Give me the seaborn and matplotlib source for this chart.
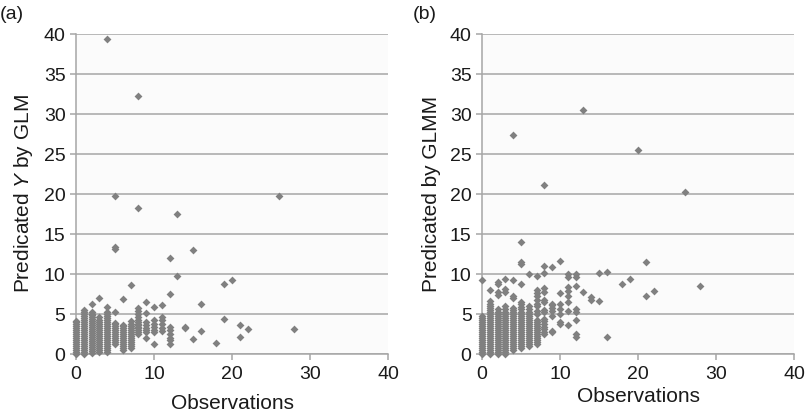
import matplotlib
matplotlib.use("Agg")
import matplotlib.pyplot as plt
import pandas as pd
import seaborn as sns

glm_obs = [0, 1, 2, 3, 4, 5, 6, 7, 8, 9, 10, 11, 12, 13, 14, 15, 16, 18, 19, 20, 21, 22, 26, 28]
glm_pred = [
    [0.0, 0.25, 0.5, 0.75, 1.0, 1.25, 1.5, 1.75, 2.0, 2.25, 2.5, 2.75, 3.0, 3.25, 3.5, 3.75, 4.0, 4.1],
    [0.0, 0.25, 0.5, 0.75, 1.0, 1.25, 1.5, 1.75, 2.0, 2.25, 2.5, 2.75, 3.0, 3.25, 3.5, 3.75, 4.0, 4.25,
     4.5, 4.75, 5.0, 5.25, 5.5],
    [0.1, 0.35, 0.6, 0.85, 1.1, 1.35, 1.6, 1.85, 2.1, 2.35, 2.6, 2.85, 3.1, 3.35, 3.6, 3.85, 4.1, 4.35,
     4.6, 4.85, 5.0, 5.2, 6.3],
    [0.3, 0.55, 0.8, 1.05, 1.3, 1.55, 1.8, 2.05, 2.3, 2.55, 2.8, 3.05, 3.3, 3.55, 3.8, 4.05, 4.3, 4.6, 7.0],
    [0.3, 0.55, 0.8, 1.05, 1.3, 1.55, 1.8, 2.05, 2.3, 2.55, 2.8, 3.05, 3.3, 3.55, 3.8, 4.05, 4.3, 4.55,
     4.8, 5.05, 5.3, 5.9, 39.4],
    [1.2, 1.45, 1.7, 1.95, 2.2, 2.45, 2.7, 2.95, 3.2, 3.45, 3.7, 3.9, 5.3, 13.1, 13.4, 19.8],
    [0.5, 0.75, 1.0, 1.25, 1.5, 1.75, 2.0, 2.25, 2.5, 2.75, 3.0, 3.25, 3.45, 3.6, 6.9],
    [0.8, 1.05, 1.3, 1.55, 1.8, 2.05, 2.3, 2.55, 2.8, 3.05, 3.3, 3.55, 3.8, 4.1, 8.6],
    [2.5, 2.7, 3.0, 3.2, 3.4, 3.6, 3.8, 4.0, 4.3, 4.6, 5.0, 5.4, 5.7, 18.3, 32.3],
    [2.0, 2.8, 3.0, 3.3, 3.6, 4.0, 5.1, 6.5],
    [1.3, 2.7, 3.0, 3.4, 3.8, 4.3, 5.9],
    [2.9, 3.3, 3.8, 4.2, 4.6, 6.1],
    [1.2, 1.7, 2.0, 2.5, 3.0, 3.4, 7.5, 12.0],
    [9.8, 17.5],
    [3.3, 3.4],
    [1.9, 13.0],
    [2.9, 6.2],
    [1.4],
    [4.4, 8.8],
    [9.2],
    [2.1, 3.6],
    [3.1],
    [19.8],
    [3.1],
]

glmm_obs = [0, 1, 2, 3, 4, 5, 6, 7, 8, 9, 10, 11, 12, 13, 14, 15, 16, 18, 19, 20, 21, 22, 26, 28]
glmm_pred = [
    [0.0, 0.25, 0.5, 0.75, 1.0, 1.25, 1.5, 1.75, 2.0, 2.25, 2.5, 2.75, 3.0, 3.25, 3.5, 3.75, 4.0, 4.25,
     4.5, 4.7, 9.2],
    [0.0, 0.25, 0.5, 0.75, 1.0, 1.25, 1.5, 1.75, 2.0, 2.25, 2.5, 2.75, 3.0, 3.25, 3.5, 3.75, 4.0, 4.25,
     4.5, 4.75, 5.0, 5.25, 5.5, 5.75, 6.0, 6.3, 6.6, 8.0],
    [0.0, 0.25, 0.5, 0.75, 1.0, 1.25, 1.5, 1.75, 2.0, 2.25, 2.5, 2.75, 3.0, 3.25, 3.5, 3.75, 4.0, 4.25,
     4.5, 4.75, 5.0, 5.3, 5.6, 7.4, 7.8, 8.7, 9.0],
    [0.0, 0.25, 0.5, 0.75, 1.0, 1.25, 1.5, 1.75, 2.0, 2.25, 2.5, 2.75, 3.0, 3.25, 3.5, 3.75, 4.0, 4.25,
     4.5, 4.75, 5.0, 5.3, 5.6, 6.0, 7.7, 8.1, 9.4],
    [0.5, 0.75, 1.0, 1.25, 1.5, 1.75, 2.0, 2.25, 2.5, 2.75, 3.0, 3.25, 3.5, 3.75, 4.0, 4.25, 4.5, 4.75,
     5.0, 5.3, 5.5, 5.8, 7.0, 7.3, 9.2, 27.4],
    [0.8, 1.05, 1.3, 1.55, 1.8, 2.05, 2.3, 2.55, 2.8, 3.05, 3.3, 3.55, 3.8, 4.05, 4.3, 4.55, 4.8, 5.05,
     5.3, 5.6, 5.9, 6.2, 6.5, 8.8, 11.2, 11.5, 14.0],
    [1.0, 1.25, 1.5, 1.75, 2.0, 2.25, 2.5, 2.75, 3.0, 3.25, 3.5, 3.75, 4.0, 4.25, 4.5, 4.75, 5.0, 5.3,
     5.6, 6.0, 10.0],
    [1.2, 1.45, 1.7, 1.95, 2.2, 2.45, 2.7, 2.95, 3.2, 3.45, 3.7, 3.95, 4.3, 5.0, 5.4, 6.0, 6.3, 6.8,
     7.2, 7.6, 8.0, 9.7],
    [2.5, 2.8, 3.1, 3.4, 3.8, 4.1, 4.4, 5.2, 5.5, 6.5, 6.7, 7.8, 8.2, 10.1, 11.0, 21.1],
    [2.7, 2.9, 4.8, 5.4, 5.7, 6.1, 6.2, 10.9],
    [3.7, 4.0, 5.0, 5.6, 6.2, 7.6, 11.6],
    [3.6, 5.4, 6.5, 7.3, 7.9, 8.4, 9.6, 10.0],
    [2.1, 2.5, 4.2, 5.3, 5.6, 8.5, 9.6, 10.0],
    [7.7, 30.5],
    [6.8, 7.1],
    [6.6, 10.1],
    [2.1, 10.3],
    [8.8],
    [9.4],
    [25.5],
    [7.2, 11.5],
    [7.9],
    [20.2],
    [8.5],
]


def to_frame(obs, pred):
    rows = []
    for o, vals in zip(obs, pred):
        for v in vals:
            rows.append({"obs": o, "pred": v})
    return pd.DataFrame(rows)


df_glm = to_frame(glm_obs, glm_pred)
df_glmm = to_frame(glmm_obs, glmm_pred)

sns.set_style("white")
plt.rcParams["font.family"] = ["Liberation Sans", "DejaVu Sans"]
plt.rcParams["mathtext.fontset"] = "custom"
plt.rcParams["mathtext.rm"] = "Liberation Sans"
plt.rcParams["mathtext.it"] = "Liberation Sans:italic"

fig = plt.figure(figsize=(8.05, 4.16), dpi=100)
ax1 = fig.add_axes([0.0944, 0.149, 0.3876, 0.769])
ax2 = fig.add_axes([0.5988, 0.149, 0.3875, 0.769])

grey = "#a6a6a6"
panels = [
    (ax1, df_glm, "Predicated $Y$ by GLM", "(a)", 0.0, 8),
    (ax2, df_glmm, "Predicated by GLMM", "(b)", 0.513, 3),
]
for ax, df, ylab, tag, tx, lpad in panels:
    ax.set_facecolor("#fbfbfb")
    sns.scatterplot(data=df, x="obs", y="pred", ax=ax, marker="D", s=16,
                    color="#808080", linewidth=0, clip_on=False, zorder=3)
    ax.set_xlim(0, 40)
    ax.set_ylim(0, 40)
    ax.set_xticks([0, 10, 20, 30, 40])
    ax.set_yticks(range(0, 41, 5))
    ax.yaxis.grid(True, color=grey, linewidth=1.1)
    ax.xaxis.grid(False)
    ax.set_axisbelow(True)
    for side in ["top", "right"]:
        ax.spines[side].set_visible(False)
    for side in ["left", "bottom"]:
        ax.spines[side].set_color(grey)
        ax.spines[side].set_linewidth(1.1)
    ax.tick_params(axis="both", direction="out", length=4.5, width=1.1,
                   color=grey, labelsize=14, labelcolor="#1a1a1a", pad=3)
    ax.tick_params(axis="x", bottom=True, pad=4)
    ax.tick_params(axis="y", left=True, pad=3)
    ax.set_xlabel("Observations", fontsize=15, color="#1a1a1a", labelpad=lpad)
    ax.set_ylabel(ylab, fontsize=15, color="#1a1a1a", labelpad=6)
    fig.text(tx, 0.985, tag, fontsize=14, color="#1a1a1a", va="top", ha="left")

fig.savefig("out.png", dpi=100, facecolor="white")
